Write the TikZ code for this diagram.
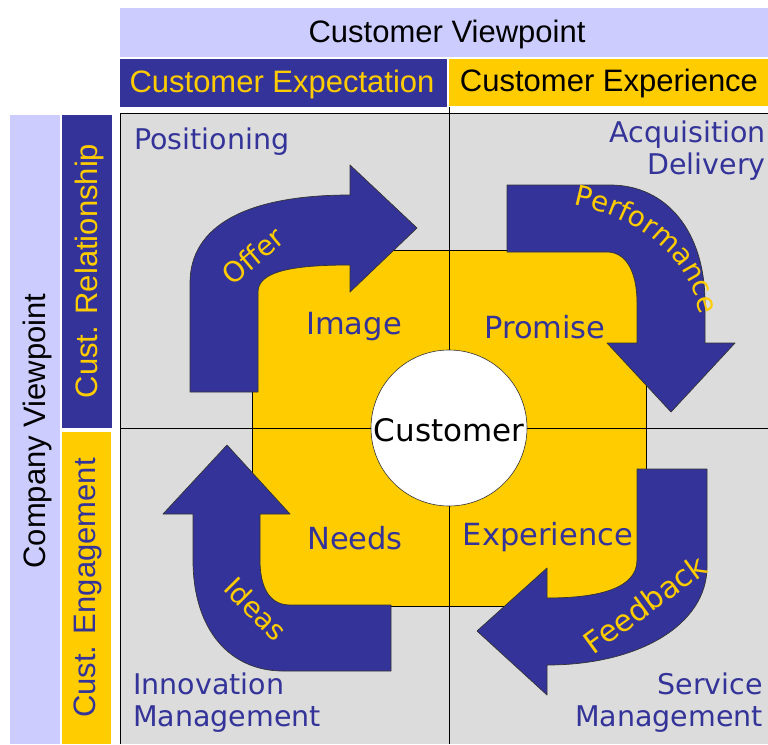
\documentclass[tikz,border=0pt]{standalone}
\usepackage{fontspec}
\setmainfont{Liberation Sans}
\newfontfamily\vfont{DejaVu Sans}
\usetikzlibrary{decorations.text}
\definecolor{navy}{HTML}{333399}
\definecolor{gold}{HTML}{FFCC00}
\definecolor{lav}{HTML}{CCCCFF}
\definecolor{cell}{HTML}{DCDCDC}
\tikzset{
  hdr/.style={font=\fontsize{31}{34}\selectfont, inner sep=0pt},
  lbl/.style={font=\vfont\fontsize{28.5}{32}\selectfont, text=navy, inner sep=0pt},
  inl/.style={font=\vfont\fontsize{30.5}{34}\selectfont, text=navy, inner sep=0pt},
  arrlbl/.style={font=\vfont\fontsize{28}{30}\selectfont, text=gold, inner sep=0pt},
  arrowshape/.style={fill=navy, draw=black!80, line width=0.7pt, line join=round},
  gridline/.style={draw=black, line width=1pt}
}
\begin{document}
\begin{tikzpicture}[x=1pt,y=-1pt]
\useasboundingbox (0,0) rectangle (768,744);
% header bands
\fill[lav] (120,8) rectangle (768,57);
\fill[navy] (120,59) rectangle (447,107);
\fill[gold] (449,59) rectangle (768,106);
\node[hdr] (cv) at (447,34) {Customer Viewpoint};
\node[hdr, text=gold] (cexp) at (282,84) {Customer Expectation};
\node[hdr] (cexr) at (609,83) {Customer Experience};
% left bands
\fill[lav] (10,115) rectangle (60,744);
\fill[navy] (62,115) rectangle (112,428);
\fill[gold] (62,432) rectangle (111,744);
\node[hdr, rotate=90] (comp) at (37,431) {Company Viewpoint};
\node[hdr, rotate=90, text=gold] (rel) at (89,271) {Cust. Relationship};
\node[hdr, rotate=90, text=navy] (eng) at (88,588) {Cust. Engagement};
% grid
\fill[cell] (120,113) rectangle (768,744);
\fill[gold, draw=black, line width=0.6pt] (252,250) rectangle (646,606);
\draw[gridline] (120,744) -- (120,113) -- (768,113);
\draw[gridline] (449,107) -- (449,744);
\draw[gridline] (120,428) -- (768,428);
% centre
\node[circle, fill=white, draw=black!80, line width=0.6pt, minimum size=156pt, inner sep=0pt] (cust) at (449,428) {};
\node[font=\vfont\fontsize{31}{34}\selectfont, inner sep=0pt] (custt) at (449,430) {Customer};
% quadrant labels
\node[lbl, anchor=west] (pos) at (134,142) {Positioning};
\node[lbl, anchor=east, align=right] (acq) at (766,151) {Acquisition\\Delivery};
\node[lbl, anchor=west, align=left] (inn) at (133,703) {Innovation\\Management};
\node[lbl, anchor=east, align=right] (ser) at (763,703) {Service\\Management};
% inner labels
\node[inl] (img) at (354,327) {Image};
\node[inl] (prom) at (545,327) {Promise};
\node[inl] (need) at (355,538) {Needs};
\node[inl] (expe) at (548,537) {Experience};
% arrows
\filldraw[arrowshape] (190,392) -- (190,283) .. controls (190,226) and (246,195) .. (350,195)
  -- (350,165) -- (417,228) -- (350,292) -- (350,265)
  .. controls (290,265) and (258,272) .. (258,292) -- (258,392) -- cycle;
\filldraw[arrowshape] (507,185) -- (610,185) .. controls (667,185) and (705,232) .. (705,303)
  -- (705,343) -- (735,343) -- (671,412) -- (607,343) -- (637,343) -- (637,303)
  .. controls (637,270) and (625,252) .. (607,252) -- (507,252) -- cycle;
\filldraw[arrowshape] (637,469) -- (707,469) -- (707,567) .. controls (707,624) and (640,665) .. (547,665)
  -- (547,695) -- (477,631) -- (547,568) -- (547,598)
  .. controls (600,598) and (637,588) .. (637,560) -- cycle;
\filldraw[arrowshape] (391,605) -- (391,671) -- (283,671) .. controls (230,671) and (193,630) .. (193,560)
  -- (193,514) -- (163,514) -- (227,445) -- (290,514) -- (260,514) -- (260,560)
  .. controls (260,585) and (268,605) .. (290,605) -- cycle;
% arrow labels
\node[arrlbl, rotate=40] (offer) at (253,256) {Offer};
\node[arrlbl, rotate=-45] (ideas) at (256,609) {Ideas};
\node[arrlbl, font=\vfont\fontsize{30}{32}\selectfont, rotate=36] (feed) at (645,604) {Feedback};
\path[decorate, decoration={text along path, text align=center, text color=gold,
  text={|\vfont\fontsize{28}{30}\selectfont|Performance}}]
  (562,203) .. controls (632,214) and (692,250) .. (702,326);
\end{tikzpicture}
\end{document}
